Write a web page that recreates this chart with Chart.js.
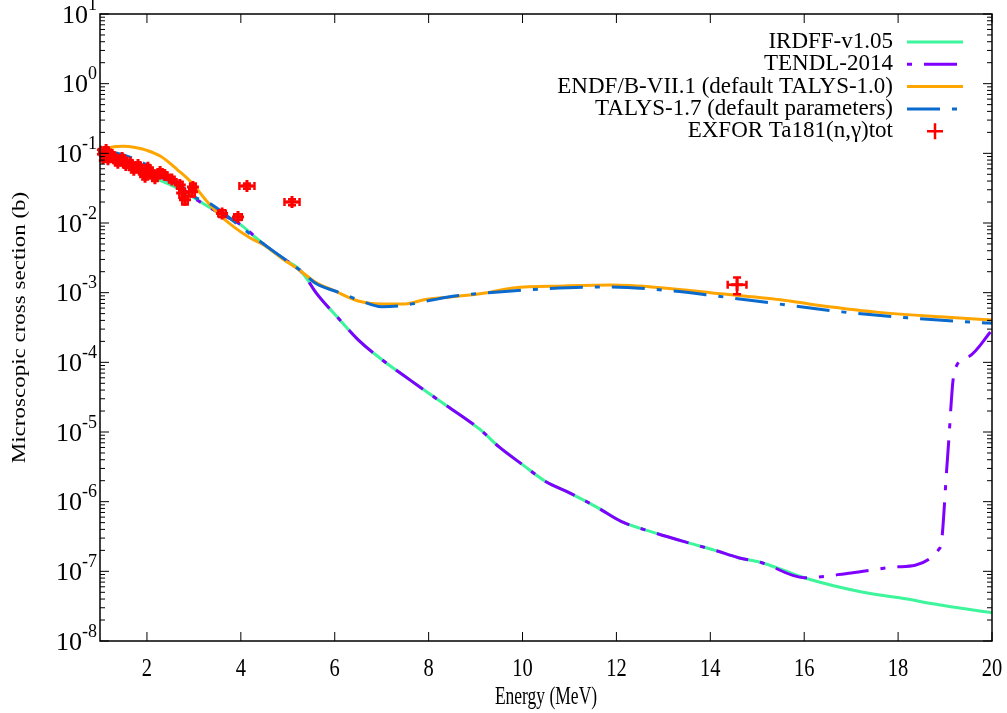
<!DOCTYPE html>
<html>
<head>
<meta charset="utf-8">
<script src="https://cdn.jsdelivr.net/npm/chart.js@4/dist/chart.umd.min.js"></script>
<style>
  html, body { margin: 0; padding: 0; background: #fff; }
</style>
</head>
<body>
<canvas id="myChart" width="1007" height="713"></canvas>
<script>
// ---- data ----
let irdffE = [1.0, 1.6, 2.1, 2.6, 3.0, 3.5, 4.0, 4.3, 4.5, 5.0, 5.2, 5.4, 5.6, 6.05, 6.5, 7.0, 7.6, 8.2, 9.1, 9.5, 10.0, 10.5, 11.0, 11.6, 12.1, 12.8, 13.5, 14.1, 14.6, 15.1, 16.0, 17.2, 18.0, 19.0, 20.0];
let irdffS = [0.086, 0.064, 0.046, 0.033, 0.023, 0.0144, 0.0094, 0.0063, 0.0049, 0.0028, 0.0023, 1.6e-3, 1.0e-3, 4.5e-4, 2.1e-4, 1.1e-4, 5.6e-5, 2.9e-5, 1.08e-5, 6.1e-6, 3.4e-6, 1.93e-6, 1.34e-6, 8.2e-7, 5.2e-7, 3.6e-7, 2.6e-7, 2.0e-7, 1.57e-7, 1.33e-7, 8.1e-8, 5.1e-8, 4.2e-8, 3.2e-8, 2.55e-8];

let tendlE = [1.0, 1.6, 2.0, 2.66, 3.0, 3.5, 4.0, 4.5, 5.0, 5.2, 5.4, 5.6, 6.05, 6.5, 7.0, 7.6, 8.2, 9.1, 9.5, 10.0, 10.5, 11.0, 11.6, 12.1, 12.8, 13.5, 14.1, 14.6, 15.1, 16.0, 17.0, 18.0, 18.9, 19.05, 19.2, 19.5, 20.0];
let tendlS = [0.089, 0.073, 0.054, 0.035, 0.023, 0.0144, 0.0094, 0.0049, 0.0028, 0.0023, 1.6e-3, 1.0e-3, 4.5e-4, 2.1e-4, 1.1e-4, 5.6e-5, 2.9e-5, 1.08e-5, 6.1e-6, 3.4e-6, 1.93e-6, 1.34e-6, 8.2e-7, 5.2e-7, 3.6e-7, 2.6e-7, 2.0e-7, 1.57e-7, 1.33e-7, 8.1e-8, 9.5e-8, 1.16e-7, 2.2e-7, 4.0e-6, 7.5e-5, 1.2e-4, 2.9e-4];

let endfE = [1.0, 1.25, 1.5, 1.75, 2.0, 2.3, 2.65, 2.95, 3.25, 3.5, 3.85, 4.2, 4.5, 4.85, 5.25, 5.6, 6.0, 6.5, 7.0, 7.5, 7.9, 8.5, 9.2, 9.8, 10.9, 11.9, 13.0, 14.0, 15.5, 16.1, 17.5, 18.9, 20.0];
let endfS = [0.105, 0.122, 0.126, 0.121, 0.11, 0.09, 0.058, 0.038, 0.0215, 0.014, 0.0088, 0.0061, 0.0048, 0.0032, 0.0021, 1.4e-3, 1.06e-3, 7.6e-4, 6.9e-4, 6.9e-4, 7.9e-4, 8.7e-4, 9.9e-4, 1.17e-3, 1.25e-3, 1.29e-3, 1.17e-3, 1.0e-3, 7.9e-4, 6.9e-4, 5.3e-4, 4.5e-4, 4.05e-4];

let talysE = [1.0, 1.5, 2.0, 2.3, 2.65, 3.0, 3.4, 3.75, 4.0, 4.5, 5.0, 5.3, 5.6, 6.05, 6.5, 7.0, 7.4, 7.7, 8.1, 8.6, 9.2, 10.4, 11.8, 13.2, 14.1, 15.3, 16.8, 18.2, 19.8, 20.0];
let talysS = [0.112, 0.095, 0.068, 0.052, 0.038, 0.024, 0.018, 0.012, 0.0088, 0.0049, 0.0028, 0.002, 1.35e-3, 1.03e-3, 7.9e-4, 6.3e-4, 6.5e-4, 7.0e-4, 7.9e-4, 9.0e-4, 9.9e-4, 1.13e-3, 1.21e-3, 1.06e-3, 9.0e-4, 7.1e-4, 5.3e-4, 4.35e-4, 3.7e-4, 3.65e-4];

let exforE  = [1.02, 1.06, 1.13, 1.17, 1.26, 1.32, 1.38, 1.47, 1.55, 1.64, 1.72, 1.81, 1.89, 1.96, 2.02, 2.11, 2.17, 2.28, 2.38, 2.53, 2.70, 2.75, 2.81, 2.96, 2.98, 3.60, 3.94, 4.13, 5.09, 14.57];
let exforS  = [0.105, 0.086, 0.112, 0.082, 0.095, 0.082, 0.073, 0.086, 0.068, 0.073, 0.058, 0.068, 0.054, 0.046, 0.062, 0.052, 0.044, 0.054, 0.049, 0.042, 0.035, 0.027, 0.0215, 0.028, 0.033, 0.0137, 0.0122, 0.034, 0.020, 1.3e-3];
let exforDE = [0.04, 0.04, 0.04, 0.04, 0.04, 0.04, 0.04, 0.04, 0.04, 0.04, 0.04, 0.04, 0.04, 0.04, 0.04, 0.05, 0.05, 0.05, 0.05, 0.05, 0.06, 0.06, 0.06, 0.06, 0.06, 0.08, 0.08, 0.16, 0.16, 0.2];
let exforDS = [0.008, 0.007, 0.008, 0.006, 0.007, 0.006, 0.006, 0.006, 0.005, 0.006, 0.005, 0.005, 0.004, 0.004, 0.005, 0.004, 0.004, 0.004, 0.004, 0.004, 0.004, 0.004, 0.003, 0.004, 0.004, 0.0015, 0.0012, 0.003, 0.002, 3.5e-4];

let xTickVals = [2, 4, 6, 8, 10, 12, 14, 16, 18, 20];
let yDecades = [-8, -7, -6, -5, -4, -3, -2, -1, 0, 1];

let font = "'Liberation Serif', 'Times New Roman', serif";

function pts(xs, ys) {
  return xs.map((x, i) => ({ x: x, y: ys[i] }));
}

// gnuplot style frame, ticks, labels and legend
let frame = {
  id: 'frame',
  afterDatasetsDraw(chart) {
    let c = chart.ctx;
    let a = chart.chartArea;
    let xs = chart.scales.x;
    let ys = chart.scales.y;

    // error bars for EXFOR
    let ds = chart.data.datasets[4];
    c.save();
    c.strokeStyle = '#ff0000';
    c.lineWidth = 2.5;
    ds.data.forEach((p, i) => {
      let px = xs.getPixelForValue(p.x);
      let py = ys.getPixelForValue(p.y);
      let x0 = xs.getPixelForValue(p.x - exforDE[i]);
      let x1 = xs.getPixelForValue(p.x + exforDE[i]);
      let y0 = ys.getPixelForValue(p.y + exforDS[i]);
      let y1 = ys.getPixelForValue(p.y - exforDS[i]);
      c.beginPath();
      c.moveTo(x0, py); c.lineTo(x1, py);
      c.moveTo(x0, py - 4); c.lineTo(x0, py + 4);
      c.moveTo(x1, py - 4); c.lineTo(x1, py + 4);
      c.moveTo(px, y0); c.lineTo(px, y1);
      c.moveTo(px - 4, y0); c.lineTo(px + 4, y0);
      c.moveTo(px - 4, y1); c.lineTo(px + 4, y1);
      c.stroke();
    });
    c.restore();

    c.save();
    c.strokeStyle = '#000';
    c.fillStyle = '#000';
    c.lineWidth = 1.5;
    c.strokeRect(a.left, a.top, a.right - a.left, a.bottom - a.top);

    c.lineWidth = 1;
    c.beginPath();
    xTickVals.forEach(v => {
      let px = xs.getPixelForValue(v);
      c.moveTo(px, a.bottom); c.lineTo(px, a.bottom - 9);
      c.moveTo(px, a.top); c.lineTo(px, a.top + 9);
    });
    yDecades.forEach(e => {
      let py = ys.getPixelForValue(Math.pow(10, e));
      c.moveTo(a.left, py); c.lineTo(a.left + 9, py);
      c.moveTo(a.right, py); c.lineTo(a.right - 9, py);
      if (e < 1) {
        for (let m = 2; m <= 9; m++) {
          let q = ys.getPixelForValue(m * Math.pow(10, e));
          c.moveTo(a.left, q); c.lineTo(a.left + 5, q);
          c.moveTo(a.right, q); c.lineTo(a.right - 5, q);
        }
      }
    });
    c.stroke();

    // x tick labels (narrow, tall glyphs)
    c.font = '25px ' + font;
    c.textAlign = 'center';
    c.textBaseline = 'middle';
    xTickVals.forEach(v => {
      c.save();
      c.translate(xs.getPixelForValue(v), a.bottom + 28);
      c.scale(0.82, 1);
      c.fillText(String(v), 0, 0);
      c.restore();
    });

    // y tick labels as 10^e
    yDecades.forEach(e => {
      let py = ys.getPixelForValue(Math.pow(10, e));
      let ex = String(e);
      c.font = '18px ' + font;
      let ew = c.measureText(ex).width;
      c.textAlign = 'left';
      c.fillText(ex, 97 - ew, py - 9);
      c.font = '26px ' + font;
      c.textAlign = 'right';
      c.fillText('10', 97 - ew, py + 2);
    });

    // axis titles
    c.font = '25px ' + font;
    c.textAlign = 'center';
    c.save();
    c.translate((a.left + a.right) / 2, 697);
    c.scale(0.7, 1);
    c.fillText('Energy (MeV)', 0, 0);
    c.restore();
    c.font = '23px ' + font;
    c.save();
    c.translate(20, (a.top + a.bottom) / 2);
    c.rotate(-Math.PI / 2);
    c.scale(1, 0.85);
    c.fillText('Microscopic cross section (b)', 0, 0);
    c.restore();

    // legend
    c.font = '23px ' + font;
    chart.data.datasets.forEach((d, i) => {
      let ly = a.top + 28 + i * 22.3;
      c.fillStyle = '#000';
      c.textAlign = 'right';
      c.fillText(d.label, 893, ly);
      c.strokeStyle = d.borderColor;
      if (d.showLine === false) {
        c.lineWidth = 2.5;
        c.setLineDash([]);
        c.beginPath();
        c.moveTo(927, ly); c.lineTo(943, ly);
        c.moveTo(935, ly - 8); c.lineTo(935, ly + 8);
        c.stroke();
      } else {
        c.lineWidth = 3;
        c.setLineDash(d.legendDash || []);
        c.beginPath();
        c.moveTo(907, ly); c.lineTo(963, ly);
        c.stroke();
        c.setLineDash([]);
      }
    });
    c.restore();
  }
};

let ctx = document.getElementById('myChart').getContext('2d');

let myChart = new Chart(ctx, {
  type: 'line',
  data: {
    datasets: [{
      label: 'IRDFF-v1.05',
      data: pts(irdffE, irdffS),
      borderColor: '#3df59b',
      borderWidth: 3,
      pointRadius: 0,
      cubicInterpolationMode: 'monotone',
      order: 5
    }, {
      label: 'TENDL-2014',
      data: pts(tendlE, tendlS),
      borderColor: '#7f00ff',
      borderWidth: 3,
      borderDash: [33, 12, 5, 12],
      legendDash: [5, 12, 33, 12],
      pointRadius: 0,
      cubicInterpolationMode: 'monotone',
      order: 4
    }, {
      label: 'ENDF/B-VII.1 (default TALYS-1.0)',
      data: pts(endfE, endfS),
      borderColor: '#ffa500',
      borderWidth: 3,
      pointRadius: 0,
      cubicInterpolationMode: 'monotone',
      order: 3
    }, {
      label: 'TALYS-1.7 (default parameters)',
      data: pts(talysE, talysS),
      borderColor: '#0a6acd',
      borderWidth: 3,
      borderDash: [33, 12, 5, 12],
      legendDash: [33, 12, 5, 12],
      pointRadius: 0,
      cubicInterpolationMode: 'monotone',
      order: 2
    }, {
      label: 'EXFOR Ta181(n,\u03b3)tot',
      data: pts(exforE, exforS),
      borderColor: '#ff0000',
      backgroundColor: '#ff0000',
      showLine: false,
      pointStyle: 'cross',
      pointRadius: 6,
      borderWidth: 3,
      order: 1
    }]
  },
  options: {
    responsive: false,
    animation: false,
    layout: {
      padding: { left: 0, top: 14, right: 15, bottom: 0 }
    },
    plugins: {
      legend: { display: false },
      tooltip: { enabled: false }
    },
    scales: {
      x: {
        type: 'linear',
        min: 1,
        max: 20,
        grid: { display: false },
        border: { display: false },
        ticks: { display: false },
        afterFit: (scale) => { scale.height = 72; }
      },
      y: {
        type: 'logarithmic',
        min: 1e-8,
        max: 10,
        grid: { display: false },
        border: { display: false },
        ticks: { display: false },
        afterFit: (scale) => { scale.width = 100; }
      }
    }
  },
  plugins: [frame]
});
</script>
</body>
</html>
